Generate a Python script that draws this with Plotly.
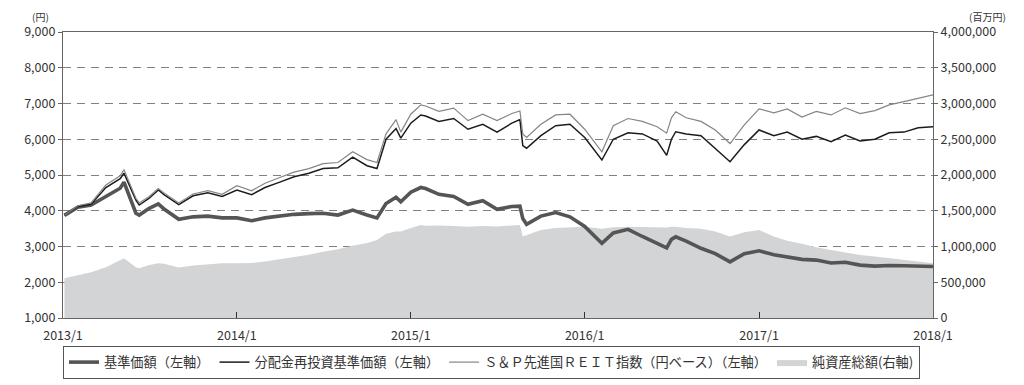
import plotly.graph_objects as go

# ---- data ----
dates = [
    "2013-01-04", "2013-02-01", "2013-03-01", "2013-04-01", "2013-05-01", "2013-05-09",
    "2013-06-03", "2013-06-10", "2013-07-01", "2013-07-20", "2013-08-01", "2013-09-01",
    "2013-10-01", "2013-11-01", "2013-12-01", "2014-01-01", "2014-02-01", "2014-03-01",
    "2014-04-01", "2014-05-01", "2014-06-01", "2014-07-01", "2014-08-01", "2014-09-01",
    "2014-10-01", "2014-10-22", "2014-11-10", "2014-12-01", "2014-12-11", "2015-01-01",
    "2015-01-22", "2015-02-01", "2015-03-01", "2015-04-01", "2015-05-01", "2015-06-01",
    "2015-07-01", "2015-08-01", "2015-08-18", "2015-08-24", "2015-09-01", "2015-10-01",
    "2015-11-01", "2015-12-01", "2016-01-01", "2016-02-06", "2016-03-01", "2016-04-01",
    "2016-05-01", "2016-06-01", "2016-06-21", "2016-07-01", "2016-07-10", "2016-08-01",
    "2016-09-01", "2016-10-01", "2016-11-01", "2016-12-01", "2017-01-01", "2017-02-01",
    "2017-03-01", "2017-04-01", "2017-05-01", "2017-06-01", "2017-07-01", "2017-08-01",
    "2017-09-01", "2017-10-01", "2017-11-01", "2017-12-01", "2018-01-01",
]

base_price = [
    3870, 4100, 4160, 4400, 4630, 4800,
    3930, 3880, 4070, 4190, 4050, 3760,
    3830, 3850, 3800, 3800, 3720, 3800,
    3860, 3900, 3920, 3930, 3880, 4020,
    3880, 3800, 4200, 4380, 4250, 4520,
    4650, 4620, 4460, 4400, 4180, 4280,
    4040, 4120, 4130, 3780, 3620, 3850,
    3950, 3830, 3560, 3090, 3380, 3480,
    3280, 3100, 2960, 3200, 3270, 3150,
    2950, 2800, 2570, 2800, 2880, 2770,
    2720, 2640, 2620, 2540, 2560, 2480,
    2450, 2470, 2460, 2460, 2440,
]

reinvested = [
    3870, 4120, 4180, 4650, 4900, 5050,
    4300, 4160, 4350, 4580, 4450, 4170,
    4420, 4500, 4400, 4580, 4450, 4650,
    4800, 4950, 5050, 5180, 5200, 5500,
    5260, 5180, 6000, 6300, 6030, 6450,
    6680, 6650, 6500, 6580, 6280, 6420,
    6200, 6450, 6550, 5820, 5750, 6100,
    6380, 6420, 6050, 5420, 6000, 6180,
    6150, 5950, 5550, 6000, 6210, 6150,
    6100, 5750, 5370, 5850, 6260, 6100,
    6200, 6000, 6080, 5930, 6120, 5950,
    6000, 6180, 6200, 6320, 6350,
]

reit_index = [
    3870, 4140, 4220, 4720, 4980, 5150,
    4350, 4220, 4400, 4620, 4500, 4220,
    4470, 4560, 4460, 4700, 4560, 4770,
    4930, 5080, 5180, 5320, 5350, 5650,
    5430, 5350, 6150, 6550, 6200, 6700,
    6960, 6930, 6780, 6870, 6520, 6700,
    6520, 6720, 6790, 6150, 6050, 6420,
    6680, 6700, 6280, 5650, 6380, 6580,
    6500, 6350, 6170, 6600, 6770, 6600,
    6500, 6260, 5880, 6400, 6850, 6740,
    6850, 6620, 6780, 6680, 6880, 6720,
    6800, 6960, 7050, 7150, 7240,
]

net_assets = [
    555000, 595000, 640000, 710000, 800000, 835000,
    710000, 695000, 740000, 765000, 760000, 705000,
    735000, 750000, 765000, 765000, 770000, 790000,
    820000, 855000, 885000, 925000, 960000, 1010000,
    1050000, 1090000, 1180000, 1210000, 1210000, 1260000,
    1300000, 1290000, 1295000, 1285000, 1275000, 1285000,
    1280000, 1295000, 1300000, 1140000, 1160000, 1230000,
    1260000, 1270000, 1275000, 1250000, 1270000, 1275000,
    1270000, 1270000, 1265000, 1275000, 1275000, 1260000,
    1250000, 1210000, 1140000, 1200000, 1230000, 1140000,
    1080000, 1040000, 990000, 950000, 915000, 880000,
    860000, 840000, 810000, 790000, 765000,
]

x_tick_vals = ["2013-01-01", "2014-01-01", "2015-01-01", "2016-01-01", "2017-01-01", "2018-01-01"]
x_tick_text = ["2013/1", "2014/1", "2015/1", "2016/1", "2017/1", "2018/1"]
left_ticks = [1000, 2000, 3000, 4000, 5000, 6000, 7000, 8000, 9000]
right_ticks = [0, 500000, 1000000, 1500000, 2000000, 2500000, 3000000, 3500000, 4000000]

names = ["基準価額（左軸）", "分配金再投資基準価額（左軸）",
         "Ｓ＆Ｐ先進国ＲＥＩＴ指数（円ベース）（左軸）", "純資産総額(右軸)"]

FONT = "Noto Sans CJK JP"
TXT = "#333333"

fig = go.Figure()
fig.add_trace(go.Scatter(
    x=dates, y=net_assets, name=names[3], mode="lines", fill="tozeroy",
    fillcolor="#d3d4d6", line=dict(width=0, color="#d3d4d6"),
    yaxis="y", legendrank=4,
))
fig.add_trace(go.Scatter(
    x=dates, y=base_price, name=names[0], mode="lines",
    line=dict(width=3.6, color="#555555"), yaxis="y2", legendrank=1,
))
fig.add_trace(go.Scatter(
    x=dates, y=reinvested, name=names[1], mode="lines",
    line=dict(width=1.5, color="#1c1c1c"), yaxis="y2", legendrank=2,
))
fig.add_trace(go.Scatter(
    x=dates, y=reit_index, name=names[2], mode="lines",
    line=dict(width=1.2, color="#858585"), yaxis="y2", legendrank=3,
))

# The page body adds an 8px offset, so the figure is 8px smaller and margins are reduced.
fig.update_layout(
    width=1016, height=377,
    margin=dict(l=55, r=91, t=24, b=67, autoexpand=False),
    paper_bgcolor="white", plot_bgcolor="white",
    font=dict(family=FONT, size=13, color=TXT),
    showlegend=True,
    legend=dict(
        orientation="h", x=0, xanchor="left", y=-0.098, yanchor="top",
        bordercolor="#555555", borderwidth=1, font=dict(size=13.2, color=TXT),
        itemwidth=30, tracegroupgap=0,
    ),
    xaxis=dict(
        type="date", range=["2013-01-01", "2018-01-01"],
        tickvals=x_tick_vals, ticktext=x_tick_text, tickfont=dict(size=12.5),
        ticks="inside", ticklen=6, tickcolor="#333333",
        showline=True, linecolor="#666666", linewidth=1.2, mirror=True,
        showgrid=False, zeroline=False, automargin=False, ticklabelstandoff=6,
    ),
    yaxis=dict(
        side="right", range=[0, 4000000], tickvals=right_ticks, tickformat=",d",
        tickfont=dict(size=12.5),
        showgrid=True, gridcolor="#808080", gridwidth=1.2, griddash="8px,6px",
        zeroline=False, showline=True, linecolor="#666666", linewidth=1.2,
        ticks="outside", ticklen=4, tickcolor="#666666", automargin=False,
    ),
    yaxis2=dict(
        overlaying="y", side="left", range=[1000, 9000], tickvals=left_ticks,
        tickformat=",d", tickfont=dict(size=12.5), showgrid=False, zeroline=False,
        showline=True, linecolor="#666666", linewidth=1.2,
        ticks="outside", ticklen=4, tickcolor="#666666", automargin=False,
    ),
    annotations=[
        dict(text="(円)", xref="paper", yref="paper", x=-0.026, y=1.085,
             xanchor="center", yanchor="top", showarrow=False, borderpad=0,
             font=dict(size=10, color=TXT)),
        dict(text="(百万円)", xref="paper", yref="paper", x=1.063, y=1.085,
             xanchor="center", yanchor="top", showarrow=False, borderpad=0,
             font=dict(size=10, color=TXT)),
    ],
)

fig.write_html("out.html")
